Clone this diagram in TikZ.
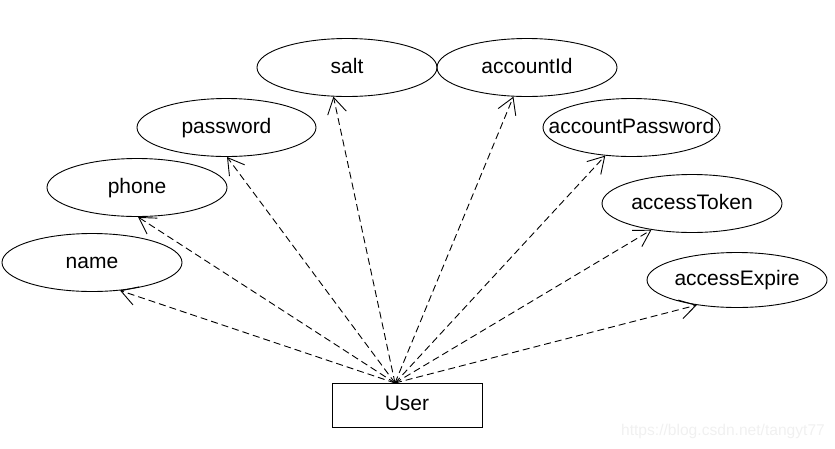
\documentclass[tikz,border=0pt]{standalone}
\usepackage{fontspec}
\setmainfont{Liberation Sans}
\usetikzlibrary{shapes.geometric,arrows.meta}
\begin{document}
\begin{tikzpicture}[x=1pt,y=-1pt,
  attr/.style={draw, ellipse, line width=0.9pt, minimum width=180pt, minimum height=58pt, inner sep=0pt, text height=15pt, text depth=3.5pt, font=\fontsize{21}{25}\selectfont},
  ent/.style={draw, rectangle, line width=0.9pt, minimum width=150pt, minimum height=44pt, inner sep=0pt, text height=15pt, text depth=3.5pt, font=\fontsize{21}{25}\selectfont},
  dep/.style={line width=0.9pt, dash pattern=on 7pt off 4pt, -{Straight Barb[length=16pt,width=19pt]}},
  wmark/.style={text=black!6, font=\fontsize{15.6}{18}\selectfont, anchor=base, inner sep=0pt}
]
\useasboundingbox (0,0) rectangle (835,448);
\node[attr] (salt) at (347,67.5) {\makebox[0pt]{salt}};
\node[attr] (accountId) at (527,67.5) {\makebox[0pt]{accountId}};
\node[attr, minimum width=179pt] (password) at (226.5,127.5) {\makebox[0pt]{password}};
\node[attr, minimum width=177pt] (accountPassword) at (631.5,127.5) {\makebox[0pt]{accountPassword}};
\node[attr] (phone) at (137,187.5) {\makebox[0pt]{phone}};
\node[attr] (accessToken) at (692,203.5) {\makebox[0pt]{accessToken}};
\node[attr] (name) at (92,262.5) {\makebox[0pt]{name}};
\node[attr, minimum height=55pt] (accessExpire) at (737,280) {\makebox[0pt]{accessExpire}};
\node[ent] (user) at (407,405) {User};
\coordinate (src) at (395,383);
\draw[dep] (src) -- (name.-45);
\draw[dep] (src) -- (phone.-88);
\draw[dep] (src) -- (password.-89);
\draw[dep] (src) -- (salt.-115);
\draw[dep] (src) -- (accountId.-115);
\draw[dep] (src) -- (accountPassword.-133);
\draw[dep] (src) -- (accessToken.-147);
\draw[dep] (src) -- (accessExpire.-148);
\node[wmark] (wm) at (723,435) {https://blog.csdn.net/tangyt77};
\end{tikzpicture}
\end{document}
